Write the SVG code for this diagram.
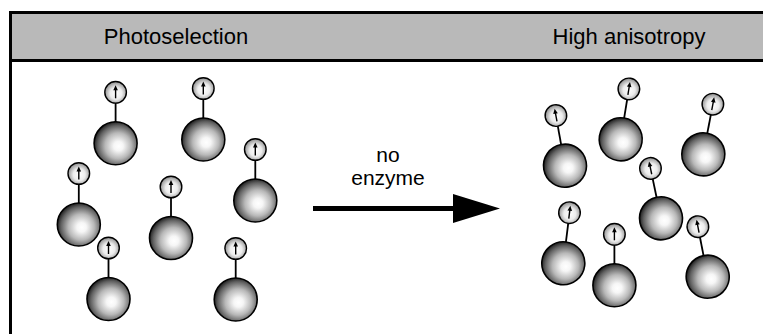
<svg xmlns="http://www.w3.org/2000/svg" xmlns:xlink="http://www.w3.org/1999/xlink" width="763" height="334" viewBox="0 0 763 334">
  <style>
    .frame { fill: none; stroke: #000; stroke-width: 3; }
    .hdr { font-family: "Liberation Sans", Arial, sans-serif; font-size: 22px; fill: #000; text-anchor: middle; }
    .lbl { font-family: "Liberation Sans", Arial, sans-serif; font-size: 21px; fill: #000; text-anchor: middle; }
    .sphere { fill: url(#sphereGrad); stroke: #000; stroke-width: 1.6; }
    .probe { fill: url(#probeGrad); stroke: #000; stroke-width: 1.4; }
    .stick { stroke: #000; stroke-width: 1.8; }
    .dipole { stroke: #000; stroke-width: 1.4; fill: none; }
  </style>
  <defs>
    <radialGradient id="sphereGrad" cx="55%" cy="55%" r="55%" fx="57%" fy="57%">
      <stop offset="0" stop-color="#ffffff"/>
      <stop offset="0.2" stop-color="#f6f6f6"/>
      <stop offset="0.55" stop-color="#b8b8b8"/>
      <stop offset="0.85" stop-color="#606060"/>
      <stop offset="1" stop-color="#262626"/>
    </radialGradient>
    <radialGradient id="probeGrad" cx="52%" cy="55%" r="55%">
      <stop offset="0" stop-color="#ffffff"/>
      <stop offset="0.5" stop-color="#ececec"/>
      <stop offset="1" stop-color="#8a8a8a"/>
    </radialGradient>
    <!-- protein sphere with tethered fluorophore; origin at sphere centre -->
    <g id="mol">
      <line class="stick" x1="0" y1="-21" x2="0" y2="-40.5"/>
      <circle class="sphere" cx="0" cy="0" r="21.5"/>
      <circle class="probe" cx="0" cy="-51" r="10.8"/>
      <line class="dipole" x1="0" y1="-45" x2="0" y2="-54"/>
      <polygon points="0,-58 -2.3,-53 2.3,-53" fill="#000"/>
    </g>
  </defs>

  <rect width="763" height="334" fill="#fff"/>

  <!-- header band and frame -->
  <rect x="10.5" y="12.5" width="760" height="48" fill="#b9b9b9"/>
  <path class="frame" d="M10.5,340 V12.5 H770"/>
  <line x1="10.5" y1="60.5" x2="770" y2="60.5" stroke="#000" stroke-width="3"/>

  <text class="hdr" x="176" y="44">Photoselection</text>
  <text class="hdr" x="629" y="44">High anisotropy</text>

  <!-- photoselected population: all dipoles aligned -->
  <g id="left-1"><use xlink:href="#mol" transform="translate(115.6,143.3)"/></g>
  <g id="left-2"><use xlink:href="#mol" transform="translate(203.3,139.5)"/></g>
  <g id="left-3"><use xlink:href="#mol" transform="translate(255.3,200.5)"/></g>
  <g id="left-4"><use xlink:href="#mol" transform="translate(78.8,224.5)"/></g>
  <g id="left-5"><use xlink:href="#mol" transform="translate(171,238)"/></g>
  <g id="left-6"><use xlink:href="#mol" transform="translate(108.5,299)"/></g>
  <g id="left-7"><use xlink:href="#mol" transform="translate(235.7,299.5)"/></g>

  <!-- population after delay: small tilts only -->
  <g id="right-1"><use xlink:href="#mol" transform="translate(565,165.7) rotate(-10.3)"/></g>
  <g id="right-2"><use xlink:href="#mol" transform="translate(620.7,139.3) rotate(9.2)"/></g>
  <g id="right-3"><use xlink:href="#mol" transform="translate(703.3,154.3) rotate(10.8)"/></g>
  <g id="right-4"><use xlink:href="#mol" transform="translate(661,218.3) rotate(-11.9)"/></g>
  <g id="right-5"><use xlink:href="#mol" transform="translate(563.3,263.3) rotate(7)"/></g>
  <g id="right-6"><use xlink:href="#mol" transform="translate(614.4,285.3)"/></g>
  <g id="right-7"><use xlink:href="#mol" transform="translate(707.7,276.7) rotate(-11.1)"/></g>

  <!-- transition arrow -->
  <g id="connectors">
    <line x1="313" y1="208.5" x2="456" y2="208.5" stroke="#000" stroke-width="5"/>
    <polygon points="453,194 500,208.5 453,223" fill="#000"/>
    <text class="lbl" x="388" y="162">no</text>
    <text class="lbl" x="388" y="185">enzyme</text>
  </g>
</svg>
